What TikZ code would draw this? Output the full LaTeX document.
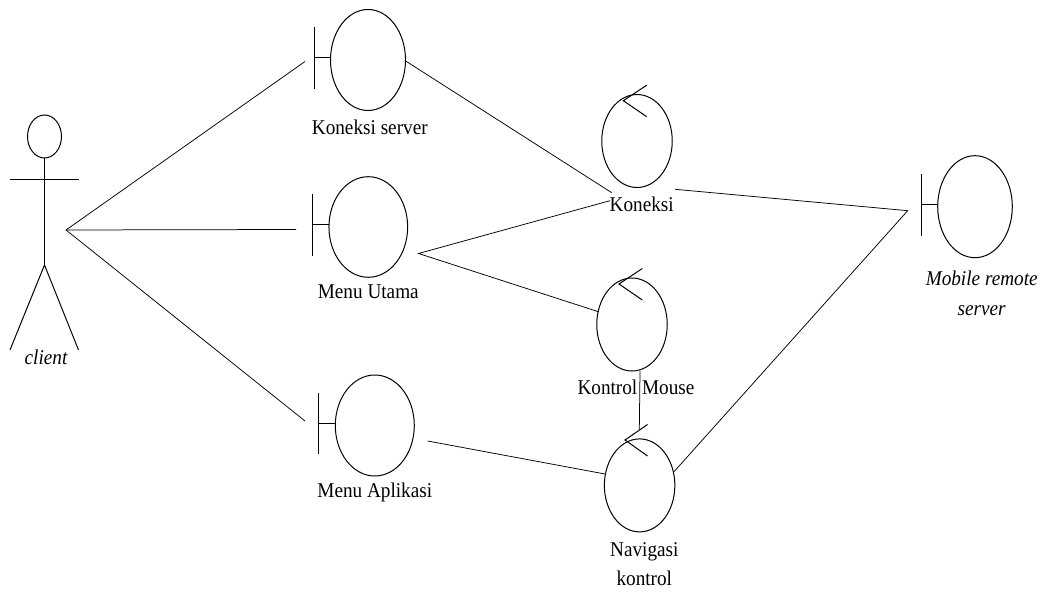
\documentclass[tikz,border=0pt]{standalone}
\usepackage{fontspec}
\setmainfont[FakeStretch=0.915]{Liberation Serif}
\usetikzlibrary{shapes.geometric}
\tikzset{
  x=1pt,y=-1pt,
  ln/.style={draw=black,line width=0.75pt},
  sh/.style={draw=black,line width=1pt},
  bubble/.style={ellipse,draw=black,line width=1pt,fill=none,inner sep=0pt,outer sep=0pt,minimum width=#1},
  lab/.style={font=\fontsize{21}{29}\selectfont,align=center,inner sep=0pt,text=black},
  labi/.style={font=\fontsize{21}{30}\selectfont\itshape,align=center,inner sep=0pt,text=black},
}
\newcommand{\iface}[8]{% name, cx, cy, w, h, barx, bartop, barbottom
  \node[bubble=#4 pt,minimum height=#5 pt] (#1) at (#2,#3) {};
  \coordinate (#1t) at (#6,#7);
  \coordinate (#1b) at (#6,#8);
  \coordinate (#1m) at (#6,#7/2+#8/2);
  \draw[sh] (#1t) -- (#1b);
  \draw[sh] (#1m) -- (#1m -| #1.west);
}
\newcommand{\ctrl}[8]{% name, cx, cy, w, h, tipx, vertex x, vertex y
  \node[bubble=#4 pt,minimum height=#5 pt] (#1) at (#2,#3) {};
  \coordinate (#1a) at (#6,#8-15.5);
  \coordinate (#1b) at (#7,#8);
  \coordinate (#1c) at (#6,#8+16);
  \draw[sh] (#1a) -- (#1b) -- (#1c);
}
\begin{document}
\begin{tikzpicture}
\useasboundingbox (0,0) rectangle (1044,593);
% actor
\node[bubble=34pt,minimum height=43pt] (head) at (44.5,136.5) {};
\coordinate (armL) at (10,179.5); \coordinate (armR) at (78.5,179.5);
\coordinate (hip) at (44.5,265); \coordinate (footL) at (10,350); \coordinate (footR) at (78.5,350);
\coordinate (hub) at (66,230);
\draw[sh] (head.south) -- (hip);
\draw[sh] (armL) -- (armR);
\draw[sh] (footL) -- (hip) -- (footR);
\node[labi] (lclient) at (46,357) {client};
% boundaries
\iface{ks}{368}{60}{75}{101}{314.7}{27}{88.7}
\iface{mu}{368.3}{227}{78.7}{100.6}{312.7}{194}{255.7}
\iface{ma}{374.8}{425.5}{79}{101}{318.7}{393}{454.3}
\iface{mr}{975}{206.7}{74.6}{102}{921.7}{174.3}{235.7}
% controls
\ctrl{ko}{637}{141}{70.5}{93}{646.7}{623.3}{100.7}
\ctrl{km}{632}{324.5}{70.5}{93}{642.3}{619}{284}
\ctrl{nk}{639.6}{485.4}{70.5}{93}{647.5}{625}{440}
% labels
\node[lab] (l1) at (369.8,127) {Koneksi server};
\node[lab] (l2) at (368.3,292) {Menu Utama};
\node[lab] (l3) at (374.8,492) {Menu Aplikasi};
\node[lab] (l4) at (641.7,204) {Koneksi};
\node[lab] (l5) at (636,387) {Kontrol Mouse};
\node[lab] (l6) at (644.3,564) {Navigasi\\kontrol};
\node[labi] (l7) at (981.7,293) {Mobile remote\\server};
% connector ends
\coordinate (a1) at (305,61.5); \coordinate (a2) at (296,229.5); \coordinate (a3) at (305,421);
\coordinate (b1) at (405.7,61); \coordinate (b2) at (611.7,192.7);
\coordinate (c1) at (418.5,253.5); \coordinate (c2) at (610,200.7); \coordinate (c3) at (598.3,311.7);
\coordinate (d1) at (427.7,441); \coordinate (d2) at (605,474);
\coordinate (e1) at (675,189.3); \coordinate (e2) at (907.7,210.7); \coordinate (e3) at (674,471.7);
\coordinate (f1) at (640,371); \coordinate (f2) at (639.3,430);
\draw[ln] (a1) -- (hub) -- (a3);
\draw[ln] (hub) -- (a2);
\draw[ln] (b1) -- (b2);
\draw[ln] (c2) -- (c1) -- (c3);
\draw[ln] (d1) -- (d2);
\draw[ln] (e1) -- (e2) -- (e3);
\draw[ln] (f1) -- (f2);
\end{tikzpicture}
\end{document}
